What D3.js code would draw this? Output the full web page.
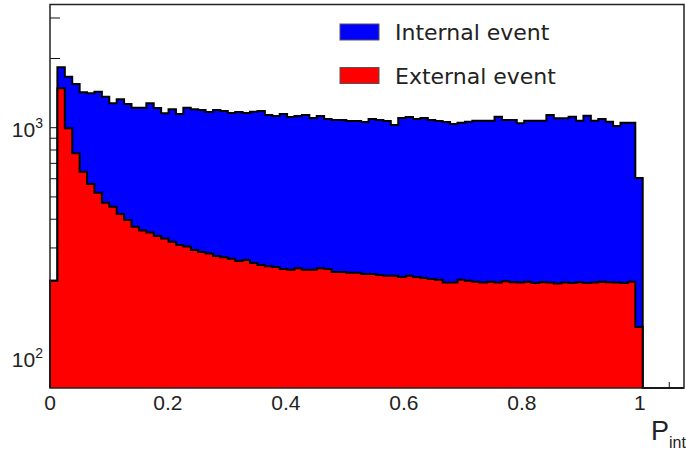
<!DOCTYPE html>
<html>
<head>
<meta charset="utf-8">
<script src="https://cdn.jsdelivr.net/npm/d3@7"></script>
<style>
  body { margin: 0; background: #fff; }
  svg { display: block; }
</style>
</head>
<body>
<svg id="chart" width="686" height="452"></svg>
<script>
// counts per bin of P_int (80 bins, 0 .. ~1.005)
var internalCounts = [
  0, 346, 672, 775, 781, 842, 912, 892, 824, 908,
  871, 851, 865, 927, 880, 825, 883, 838, 918, 908,
  906, 886, 917, 909, 890, 907, 893, 916, 929, 886,
  876, 904, 872, 879, 895, 861, 879, 848, 844, 844,
  835, 835, 827, 860, 851, 842, 800, 878, 886, 867,
  880, 860, 851, 846, 825, 832, 846, 859, 861, 859,
  904, 865, 867, 833, 859, 862, 860, 924, 889, 887,
  905, 860, 916, 861, 877, 849, 804, 840, 837, 468
];
var externalCounts = [
  216, 1484, 994, 774, 644, 569, 522, 472, 453, 421,
  397, 371, 357, 350, 338, 330, 319, 309, 304, 294,
  288, 284, 277, 273, 269, 263, 266, 258, 253, 250,
  248, 243, 241, 245, 241, 241, 245, 243, 236, 236,
  234, 234, 231, 231, 229, 227, 227, 224, 227, 224,
  222, 220, 218, 212, 212, 218, 216, 214, 212, 214,
  212, 215, 213, 212, 214, 211, 213, 212, 210, 212,
  211, 213, 211, 212, 214, 213, 212, 211, 214, 136
];
var binWidth = 1.005 / 80;
var xTickValues = [0, 0.2, 0.4, 0.6, 0.8, 1];
var xTickLabels = ['0', '0.2', '0.4', '0.6', '0.8', '1'];
var yMajorTicks = [100, 1000];
var yMajorExp = ['2', '3'];
var seriesNames = ['Internal event', 'External event'];
var seriesColors = ['#0000ff', '#ff0000'];

(function() {
  var padL = 50, padR = 684, padT = 4.5, padB = 388;
  var svg = d3.select('#chart');

  var x = d3.scaleLinear().domain([0, 1.075]).range([padL, padR]);
  var y = d3.scaleLog().domain([73.8, 3434]).range([padB, padT]).clamp(true);

  var totals = internalCounts.map(function(v, i) { return v + externalCounts[i]; });

  // ticks first, the bars cover them like in the original
  var ticks = svg.append('g').attr('stroke', '#111').attr('stroke-width', 1);
  var yMinor = [];
  [10, 100, 1000].forEach(function(dec) {
    for (var k = 2; k <= 9; k++) {
      var v = dec * k;
      if (v > y.domain()[0] && v < y.domain()[1]) yMinor.push(v);
    }
  });
  ticks.selectAll('.ym').data(yMinor).enter().append('line')
    .attr('x1', padL).attr('x2', padL + 10)
    .attr('y1', function(d) { return y(d); }).attr('y2', function(d) { return y(d); });
  ticks.selectAll('.yM').data(yMajorTicks).enter().append('line')
    .attr('x1', padL).attr('x2', padL + 20)
    .attr('y1', function(d) { return y(d); }).attr('y2', function(d) { return y(d); });
  var xMinor = d3.range(0.05, 1.075, 0.05);
  ticks.selectAll('.xm').data(xMinor).enter().append('line')
    .attr('x1', function(d) { return x(d); }).attr('x2', function(d) { return x(d); })
    .attr('y1', padB).attr('y2', padB - 6);
  ticks.selectAll('.xM').data(xTickValues).enter().append('line')
    .attr('x1', function(d) { return x(d); }).attr('x2', function(d) { return x(d); })
    .attr('y1', padB).attr('y2', padB - 12);

  function stepPath(vals) {
    var pts = [[x(0), padB]];
    vals.forEach(function(v, i) {
      var yy = v > 0 ? y(v) : padB;
      pts.push([x(i * binWidth), yy], [x((i + 1) * binWidth), yy]);
    });
    pts.push([x(vals.length * binWidth), padB]);
    pts.push([padR, padB]);
    return d3.line()(pts);
  }

  svg.append('path').attr('d', stepPath(totals))
    .attr('fill', seriesColors[0]).attr('stroke', '#000').attr('stroke-width', 2);
  svg.append('path').attr('d', stepPath(externalCounts))
    .attr('fill', seriesColors[1]).attr('stroke', '#000').attr('stroke-width', 2);

  // frame
  svg.append('rect').attr('x', padL).attr('y', padT)
    .attr('width', padR - padL).attr('height', padB - padT)
    .attr('fill', 'none').attr('stroke', '#222').attr('stroke-width', 1.5);

  // x labels
  svg.append('g').selectAll('text').data(xTickValues).enter().append('text')
    .attr('x', function(d) { return x(d); }).attr('y', 410)
    .attr('text-anchor', 'middle')
    .attr('font-family', 'Liberation Sans, Arial, sans-serif').attr('font-size', 21)
    .attr('fill', '#222')
    .text(function(d, i) { return xTickLabels[i]; });

  // y labels 10^n
  var yl = svg.append('g').selectAll('text').data(yMajorTicks).enter().append('text')
    .attr('x', 43).attr('y', function(d) { return y(d) + 9; })
    .attr('text-anchor', 'end')
    .attr('font-family', 'Liberation Sans, Arial, sans-serif').attr('font-size', 21)
    .attr('fill', '#222');
  yl.append('tspan').text('10');
  yl.append('tspan').attr('dy', -9).attr('font-size', 14).text(function(d, i) { return yMajorExp[i]; });

  // axis title
  var xt = svg.append('text').attr('x', 651).attr('y', 440)
    .attr('font-family', 'Liberation Sans, Arial, sans-serif').attr('font-size', 27)
    .attr('fill', '#222');
  xt.append('tspan').text('P');
  xt.append('tspan').attr('dy', 8).attr('font-size', 16).text('int');

  // legend
  var leg = svg.append('g').selectAll('g').data(seriesNames).enter().append('g')
    .attr('transform', function(d, i) { return 'translate(340,' + (24 + i * 43.5) + ')'; });
  leg.append('rect').attr('width', 39).attr('height', 16)
    .attr('fill', function(d, i) { return seriesColors[i]; })
    .attr('stroke', '#555').attr('stroke-width', 1);
  leg.append('text').attr('x', 55).attr('y', 16)
    .attr('font-family', 'DejaVu Sans, sans-serif').attr('font-size', 22)
    .attr('fill', '#222')
    .text(function(d) { return d; });
})();
</script>
</body>
</html>
